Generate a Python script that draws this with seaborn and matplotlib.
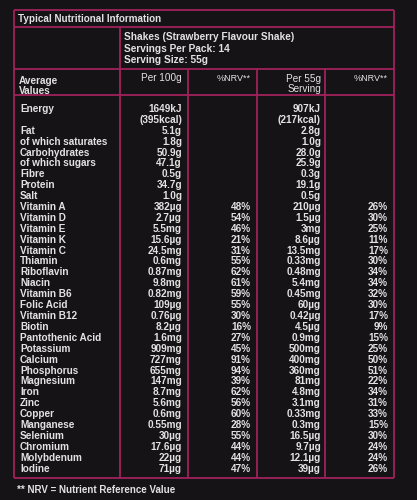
import matplotlib
matplotlib.use("Agg")
import matplotlib.pyplot as plt
import seaborn as sns

sns.set_theme(style="dark")
plt.rcParams["font.family"] = ["Liberation Sans", "DejaVu Sans"]

TITLE = "Typical Nutritional Information"
PRODUCT = ["Shakes (Strawberry Flavour Shake)", "Servings Per Pack: 14", "Serving Size: 55g"]
FOOTNOTE = "** NRV = Nutrient Reference Value"

nutrients = [
    "Energy", "Fat", "of which saturates", "Carbohydrates", "of which sugars",
    "Fibre", "Protein", "Salt", "Vitamin A", "Vitamin D", "Vitamin E", "Vitamin K",
    "Vitamin C", "Thiamin", "Riboflavin", "Niacin", "Vitamin B6", "Folic Acid",
    "Vitamin B12", "Biotin", "Pantothenic Acid", "Potassium", "Calcium",
    "Phosphorus", "Magnesium", "Iron", "Zinc", "Copper", "Manganese", "Selenium",
    "Chromium", "Molybdenum", "Iodine",
]
per_100g = [
    "1649kJ\n(395kcal)", "5.1g", "1.8g", "50.9g", "47.1g", "0.5g", "34.7g", "1.0g",
    "382µg", "2.7µg", "5.5mg", "15.6µg", "24.5mg", "0.6mg", "0.87mg", "9.8mg",
    "0.82mg", "109µg", "0.76µg", "8.2µg", "1.6mg", "909mg", "727mg", "655mg",
    "147mg", "8.7mg", "5.6mg", "0.6mg", "0.55mg", "30µg", "17.6µg", "22µg", "71µg",
]
nrv_100g = [
    "", "", "", "", "", "", "", "",
    "48%", "54%", "46%", "21%", "31%", "55%", "62%", "61%", "59%", "55%", "30%",
    "16%", "27%", "45%", "91%", "94%", "39%", "62%", "56%", "60%", "28%", "55%",
    "44%", "44%", "47%",
]
per_serving = [
    "907kJ\n(217kcal)", "2.8g", "1.0g", "28.0g", "25.9g", "0.3g", "19.1g", "0.5g",
    "210µg", "1.5µg", "3mg", "8.6µg", "13.5mg", "0.33mg", "0.48mg", "5.4mg",
    "0.45mg", "60µg", "0.42µg", "4.5µg", "0.9mg", "500mg", "400mg", "360mg",
    "81mg", "4.8mg", "3.1mg", "0.33mg", "0.3mg", "16.5µg", "9.7µg", "12.1µg", "39µg",
]
nrv_serving = [
    "", "", "", "", "", "", "", "",
    "26%", "30%", "25%", "11%", "17%", "30%", "34%", "34%", "32%", "30%", "17%",
    "9%", "15%", "25%", "50%", "51%", "22%", "34%", "31%", "33%", "15%", "30%",
    "24%", "24%", "26%",
]

BG = "#151315"
LINE = "#a1225d"
TXT = "#e2e2e2"
FS = 7.2
BASE = 3.7  # baseline offset below a row's visual centre

fig = plt.figure(figsize=(4.17, 5.0), dpi=100, facecolor=BG)
ax = fig.add_axes([0, 0, 1, 1])
ax.set_facecolor(BG)
ax.set_xlim(0, 417)
ax.set_ylim(500, 0)
ax.axis("off")

# table grid
L, R, T, B = 14, 394, 10, 478
ax.hlines([T, 27, 69, 95, B], L, R, color=LINE, lw=1.3)
ax.vlines([L, R], T, B, color=LINE, lw=1.3)
ax.vlines(120, 27, B, color=LINE, lw=1.3)
ax.vlines([188, 257, 325], 69, B, color=LINE, lw=1.3)

ax.text(18, 18.5 + BASE, TITLE, color=TXT, fontsize=7.1, fontweight="bold", va="baseline")
for i, line in enumerate(PRODUCT):
    ax.text(124, 36 + i * 11.8 + BASE, line, color=TXT, fontsize=7.3,
            fontweight="bold", va="baseline")

# column headers
ax.text(19, 80 + BASE, "Average", color=TXT, fontsize=FS, fontweight="bold", va="baseline")
ax.text(19, 90.5 + BASE, "Values", color=TXT, fontsize=FS, fontweight="bold", va="baseline")
ax.text(182, 77.5 + BASE, "Per 100g", color=TXT, fontsize=FS, ha="right", va="baseline")
ax.text(251, 77 + BASE, "%NRV**", color=TXT, fontsize=6.5, ha="right", va="baseline")
ax.text(321, 78 + BASE, "Per 55g", color=TXT, fontsize=FS, ha="right", va="baseline")
ax.text(321, 88.5 + BASE, "Serving", color=TXT, fontsize=FS, ha="right", va="baseline")
ax.text(388, 77 + BASE, "%NRV**", color=TXT, fontsize=6.5, ha="right", va="baseline")

# rows: Energy takes two lines, every other nutrient one
y0, step = 108.2, 10.9
cols = [(per_100g, 182), (nrv_100g, 251), (per_serving, 321), (nrv_serving, 388)]
for i, name in enumerate(nutrients):
    y = y0 + (i + 1) * step if i > 0 else y0
    ax.text(20, y + BASE, name, color=TXT, fontsize=FS, fontweight="bold", va="baseline")
    for vals, xr in cols:
        for k, part in enumerate(vals[i].split("\n")):
            if part:
                ax.text(xr, y + k * step + BASE, part, color=TXT, fontsize=FS,
                        fontweight="bold", ha="right", va="baseline")

ax.text(17, 489 + BASE, FOOTNOTE, color=TXT, fontsize=7.0, fontweight="bold", va="baseline")

fig.savefig("out.png", dpi=100, facecolor=BG)
